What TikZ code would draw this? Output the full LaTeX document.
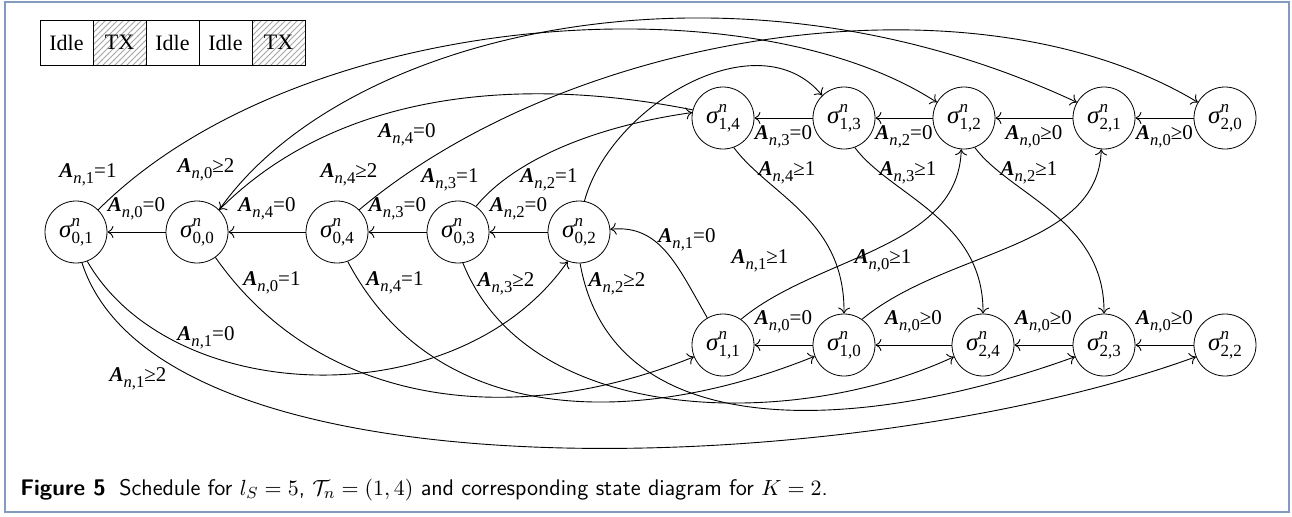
\documentclass[tikz,border=0pt]{standalone}
\usepackage{fontspec}
\newfontfamily\tms{Liberation Serif}
\usetikzlibrary{patterns,arrows.meta}
\definecolor{framecol}{RGB}{130,155,190}
\newcommand\sig[2]{{\fontsize{12.5}{13}\tms\itshape σ}{\fontsize{8.5}{9}\tms\raisebox{5.5pt}{\rlap{\itshape n}}\raisebox{-3pt}{#1,#2}}}
\newcommand\lab[2]{{\fontsize{10.5}{11}\tms\bfseries\itshape A}{\fontsize{8.3}{9}\tms\raisebox{-2.8pt}{\itshape n\upshape,#1}}{\fontsize{10.5}{11}\tms #2}}
\begin{document}
\begin{tikzpicture}[x=0.5pt,y=0.5pt,
  st/.style={circle,draw,minimum size=31pt,inner sep=0pt},
  lbl/.style={inner sep=0pt},
  ed/.style={-{To[length=3pt,width=6pt]}, line width=0.45pt},
  cell/.style={draw,minimum width=26.5pt,minimum height=22.5pt,inner sep=0pt,font=\fontsize{11}{12}\tms},
  tx/.style={cell,pattern=north east lines,pattern color=gray!70}]
\useasboundingbox (0,0) rectangle (1292,-516);
\draw[framecol,line width=1pt] (5,-2) rectangle (1289,-512);
% schedule
\node[cell] (c0) at (66.5,-42.5) {Idle};
\node[tx] (c1) at (119.5,-42.5) {TX};
\node[cell] (c2) at (172.5,-42.5) {Idle};
\node[cell] (c3) at (225.5,-42.5) {Idle};
\node[tx] (c4) at (278.5,-42.5) {TX};
% states
\node[st] (s01) at (76,-232) {\sig{0}{1}};
\node[st] (s00) at (197,-232) {\sig{0}{0}};
\node[st] (s04) at (337,-232) {\sig{0}{4}};
\node[st] (s03) at (458,-232) {\sig{0}{3}};
\node[st] (s02) at (579,-232) {\sig{0}{2}};
\node[st] (s14) at (723,-118) {\sig{1}{4}};
\node[st] (s13) at (844,-118) {\sig{1}{3}};
\node[st] (s12) at (964,-118) {\sig{1}{2}};
\node[st] (s21) at (1104,-118) {\sig{2}{1}};
\node[st] (s20) at (1225,-118) {\sig{2}{0}};
\node[st] (s11) at (723,-345) {\sig{1}{1}};
\node[st] (s10) at (844,-345) {\sig{1}{0}};
\node[st] (s24) at (983,-345) {\sig{2}{4}};
\node[st] (s23) at (1104,-345) {\sig{2}{3}};
\node[st] (s22) at (1225,-345) {\sig{2}{2}};
% straight edges
\draw[ed] (s00) -- node[lbl,above=6pt]{\lab{0}{=0}} (s01);
\draw[ed] (s04) -- node[lbl,above=6pt]{\lab{4}{=0}} (s00);
\draw[ed] (s03) -- node[lbl,above=6pt]{\lab{3}{=0}} (s04);
\draw[ed] (s02) -- node[lbl,above=6pt]{\lab{2}{=0}} (s03);
\draw[ed] (s13) -- node[lbl,below=3.5pt]{\lab{3}{=0}} (s14);
\draw[ed] (s12) -- node[lbl,below=3.5pt]{\lab{2}{=0}} (s13);
\draw[ed] (s21) -- node[lbl,below=3.5pt]{\lab{0}{≥0}} (s12);
\draw[ed] (s20) -- node[lbl,below=3.5pt]{\lab{0}{≥0}} (s21);
\draw[ed] (s10) -- node[lbl,above=6pt]{\lab{0}{=0}} (s11);
\draw[ed] (s24) -- node[lbl,above=6pt]{\lab{0}{≥0}} (s10);
\draw[ed] (s23) -- node[lbl,above=6pt]{\lab{0}{≥0}} (s24);
\draw[ed] (s22) -- node[lbl,above=6pt]{\lab{0}{≥0}} (s23);
% curved edges
\draw[ed] (s01.45) .. controls +(198,198) and +(-193,125) .. (s12.150);
\draw[ed] (s00.45) .. controls +(126,180) and +(-344,161) .. (s21.150);
\draw[ed] (s04.45) .. controls +(214,180) and +(-223,134) .. (s20.150);
\draw[ed] (s02.80) .. controls +(26,96) and +(-64,77) .. (s13.134);
\draw[ed] (s03.55) .. controls +(38,46) and +(-99,-14) .. (s14.170);
\draw[ed] (s14.165) .. controls +(-170,34) and +(120,120) .. (s00.45);
\draw[ed] (s04.-70) .. controls +(89,-168) and +(-176,-71) .. (s10.201);
\draw[ed] (s01.-69) .. controls +(85,-147) and +(-109,-156) .. (s02.-111);
\draw[ed] (s01.-79) .. controls +(80,-247) and +(-329,-120) .. (s22.202);
\draw[ed] (s00.-54) .. controls +(103,-147) and +(-185,-75) .. (s11.202);
\draw[ed] (s03.-81) .. controls +(67,-167) and +(-154,-72) .. (s24.202);
\draw[ed] (s02.-88) .. controls +(33,-187) and +(-207,-75) .. (s23.202);
\draw[ed] (s11.120) .. controls +(-30,52) and +(50,5) .. (s02.5);
\draw[ed] (s11.55) .. controls +(77,64) and +(-3,-100) .. (s12.-95);
\draw[ed] (s10.55) .. controls +(85,70) and +(-3,-100) .. (s21.-95);
\draw[ed] (s14.-70) .. controls +(36,-48) and +(1,94) .. (s10.90);
\draw[ed] (s13.-70) .. controls +(36,-48) and +(1,94) .. (s24.90);
\draw[ed] (s12.-70) .. controls +(36,-48) and +(1,94) .. (s23.90);
% curve labels
\node[lbl] (l1) at (88,-175) {\lab{1}{=1}};
\node[lbl] (l2) at (206,-170) {\lab{0}{≥2}};
\node[lbl] (l3) at (407,-135) {\lab{4}{=0}};
\node[lbl] (l4) at (349,-175) {\lab{4}{≥2}};
\node[lbl] (l5) at (450,-180) {\lab{3}{=1}};
\node[lbl] (l6) at (549,-180) {\lab{2}{=1}};
\node[lbl] (l7) at (787,-173) {\lab{4}{≥1}};
\node[lbl] (l8) at (908,-173) {\lab{3}{≥1}};
\node[lbl] (l9) at (1029,-173) {\lab{2}{≥1}};
\node[lbl] (l10) at (687,-240) {\lab{1}{=0}};
\node[lbl] (l11) at (760,-261) {\lab{1}{≥1}};
\node[lbl] (l12) at (883,-261) {\lab{0}{≥1}};
\node[lbl] (l13) at (272,-283) {\lab{0}{=1}};
\node[lbl] (l14) at (395,-283) {\lab{4}{=1}};
\node[lbl] (l15) at (506,-284) {\lab{3}{≥2}};
\node[lbl] (l16) at (617,-284) {\lab{2}{≥2}};
\node[lbl] (l17) at (206,-338) {\lab{1}{=0}};
\node[lbl] (l18) at (138,-379) {\lab{1}{≥2}};
% caption
\node[anchor=west,inner sep=0pt] (cap) at (20,-490) {\sffamily\fontsize{11.3}{13}\selectfont\textbf{Figure 5}\hspace{0.6em}Schedule for $l_S=5$, $\mathcal{T}_n=(1,4)$ and corresponding state diagram for $K=2$.};
\end{tikzpicture}
\end{document}
